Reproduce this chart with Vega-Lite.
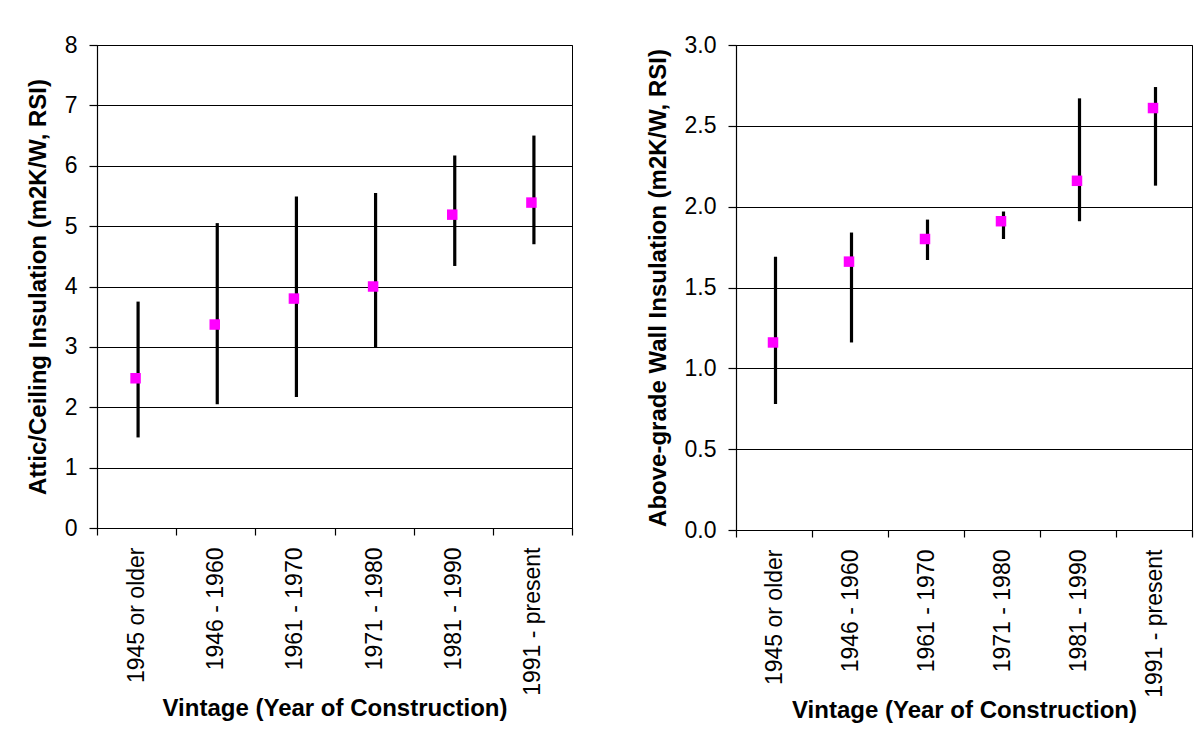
{
  "$schema": "https://vega.github.io/schema/vega-lite/v6.json",
  "background": "white",
  "padding": {"left": 25, "top": 33, "right": 5, "bottom": 5},
  "spacing": 71,
  "config": {
    "font": "Liberation Sans",
    "view": {"stroke": "#000", "strokeWidth": 1},
    "axis": {
      "labelFont": "Liberation Sans",
      "titleFont": "Liberation Sans",
      "labelFontSize": 23,
      "titleFontSize": 24,
      "titleFontWeight": "bold",
      "labelColor": "#000",
      "titleColor": "#000",
      "domainColor": "#000",
      "tickColor": "#000",
      "gridColor": "#000",
      "gridOpacity": 1,
      "gridWidth": 1,
      "domainWidth": 1.2,
      "tickWidth": 1.2
    }
  },
  "hconcat": [
    {
      "width": 475,
      "height": 483,
      "data": {"values": [
        {"vintage": "1945 or older", "low": 1.50, "high": 3.75, "mean": 2.48},
        {"vintage": "1946 - 1960", "low": 2.05, "high": 5.05, "mean": 3.37},
        {"vintage": "1961 - 1970", "low": 2.17, "high": 5.49, "mean": 3.80},
        {"vintage": "1971 - 1980", "low": 3.00, "high": 5.55, "mean": 4.00},
        {"vintage": "1981 - 1990", "low": 4.34, "high": 6.17, "mean": 5.19},
        {"vintage": "1991 - present", "low": 4.70, "high": 6.50, "mean": 5.39}
      ]},
      "encoding": {
        "x": {
          "field": "vintage", "type": "nominal", "sort": null,
          "scale": {"paddingInner": 0, "paddingOuter": 0},
          "axis": {
            "title": "Vintage (Year of Construction)",
            "labelAngle": 270, "tickBand": "extent", "tickSize": 7,
            "labelPadding": 12, "titlePadding": 1, "grid": false
          }
        }
      },
      "layer": [
        {
          "mark": {"type": "rule", "strokeWidth": 3.2, "color": "#000", "xOffset": 1.5},
          "encoding": {
            "y": {
              "field": "low", "type": "quantitative",
              "scale": {"domain": [0, 8], "nice": false},
              "axis": {
                "title": "Attic/Ceiling Insulation (m2K/W, RSI)",
                "values": [0, 1, 2, 3, 4, 5, 6, 7, 8],
                "format": "d",
                "tickSize": 8, "labelPadding": 12, "titlePadding": 14, "grid": true
              }
            },
            "y2": {"field": "high"}
          }
        },
        {
          "mark": {"type": "point", "shape": "square", "filled": true, "size": 110, "color": "#FF00FF", "opacity": 1, "xOffset": -1},
          "encoding": {
            "y": {"field": "mean", "type": "quantitative"}
          }
        }
      ]
    },
    {
      "width": 456,
      "height": 485,
      "data": {"values": [
        {"vintage": "1945 or older", "low": 0.78, "high": 1.69, "mean": 1.16},
        {"vintage": "1946 - 1960", "low": 1.16, "high": 1.84, "mean": 1.66},
        {"vintage": "1961 - 1970", "low": 1.67, "high": 1.92, "mean": 1.80},
        {"vintage": "1971 - 1980", "low": 1.80, "high": 1.97, "mean": 1.91},
        {"vintage": "1981 - 1990", "low": 1.91, "high": 2.67, "mean": 2.16},
        {"vintage": "1991 - present", "low": 2.13, "high": 2.74, "mean": 2.61}
      ]},
      "encoding": {
        "x": {
          "field": "vintage", "type": "nominal", "sort": null,
          "scale": {"paddingInner": 0, "paddingOuter": 0},
          "axis": {
            "title": "Vintage (Year of Construction)",
            "labelAngle": 270, "tickBand": "extent", "tickSize": 7,
            "labelPadding": 12, "titlePadding": 1, "grid": false
          }
        }
      },
      "layer": [
        {
          "mark": {"type": "rule", "strokeWidth": 3.2, "color": "#000", "xOffset": 1.5},
          "encoding": {
            "y": {
              "field": "low", "type": "quantitative",
              "scale": {"domain": [0, 3], "nice": false},
              "axis": {
                "title": "Above-grade Wall Insulation (m2K/W, RSI)",
                "values": [0, 0.5, 1, 1.5, 2, 2.5, 3],
                "format": ".1f",
                "tickSize": 8, "labelPadding": 12, "titlePadding": 14, "grid": true
              }
            },
            "y2": {"field": "high"}
          }
        },
        {
          "mark": {"type": "point", "shape": "square", "filled": true, "size": 110, "color": "#FF00FF", "opacity": 1, "xOffset": -1},
          "encoding": {
            "y": {"field": "mean", "type": "quantitative"}
          }
        }
      ]
    }
  ]
}
